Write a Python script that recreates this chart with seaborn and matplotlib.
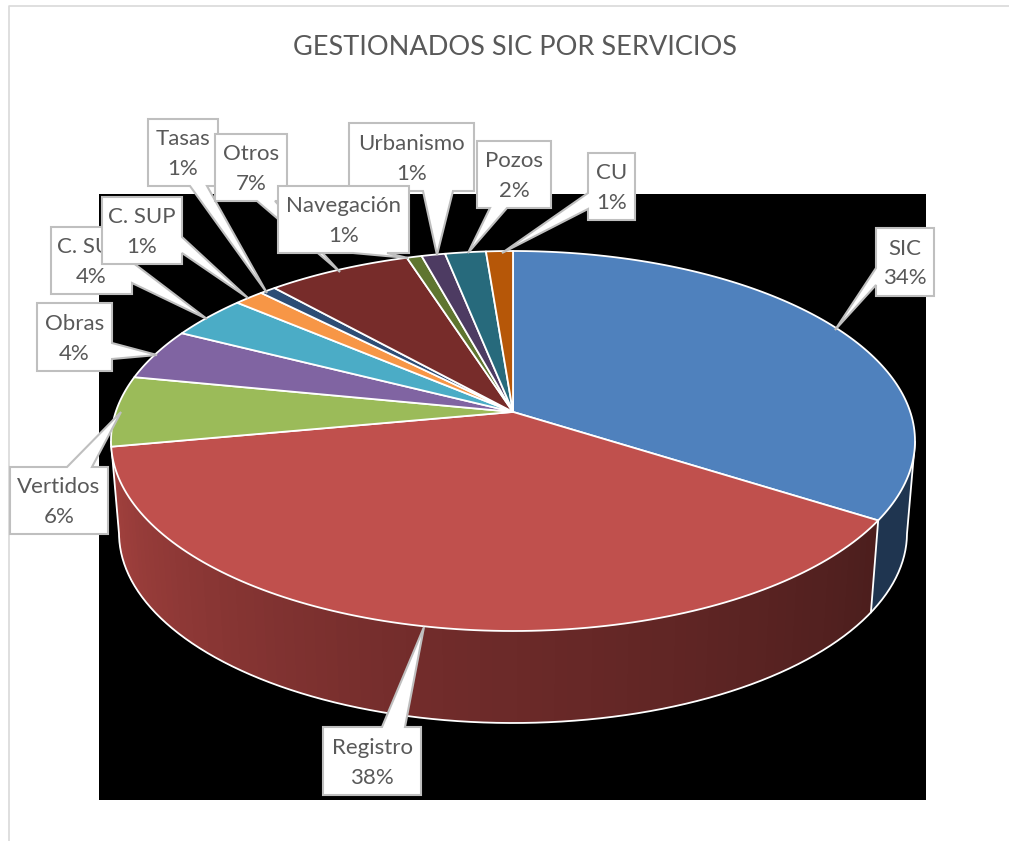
import numpy as np
import matplotlib
matplotlib.use('Agg')
import matplotlib.pyplot as plt
import seaborn as sns

# Data
servicios = ['SIC', 'Registro', 'Vertidos', 'Obras', 'C. SUB', 'C. SUP', 'Tasas',
             'Otros', 'Navegación', 'Urbanismo', 'Pozos', 'CU']
valores = [34.0, 38.05, 6.0, 4.4, 3.7, 1.4, 0.75, 6.7, 0.7, 1.1, 1.9, 1.25]
colores = ['#4f81bd', '#c0504d', '#9bbb59', '#8064a2', '#4bacc6', '#f79646',
           '#2c4d75', '#772c2a', '#5f7530', '#4d3b62', '#276a7c', '#b65708']
titulo = 'GESTIONADOS SIC POR SERVICIOS'

sns.set_theme(style='white')
plt.rcParams['font.family'] = ['Lato', 'DejaVu Sans']

fig = plt.figure(figsize=(10.09, 8.41), dpi=100)
ax = fig.add_axes([0, 0, 1, 1])
ax.set_xlim(0, 1009)
ax.set_ylim(841, 0)
ax.axis('off')

# chart frame and black plot area
ax.plot([9, 9, 1009], [841, 6, 6], color='#d9d9d9', lw=1.2, zorder=0)
ax.fill([99, 926, 926, 99], [194, 194, 800, 800], color='black', lw=0, zorder=1)

# perspective: the apex of the pie sits above the centre of the ellipse
persp = 0.153


def rim(theta, cy, rx, ry, cx=513):
    t = np.radians(theta)
    x, y = np.sin(t), np.cos(t)
    den = 1 + persp * y
    u = x * np.sqrt(1 - persp ** 2) / den
    v = (y + persp) / den
    return cx + rx * u, cy - ry * v


def top(theta):
    return rim(theta, 441, 402, 190)


def bottom(theta):
    return rim(theta, 533, 394, 190)


def wall(t0, t1, color, z=2):
    ts = np.linspace(t0, t1, 100)
    xa, ya = top(ts)
    xb, yb = bottom(ts[::-1])
    ax.fill(np.r_[xa, xb], np.r_[ya, yb], facecolor=color, edgecolor='none', zorder=z)


edges = np.r_[0, np.cumsum(valores)] / sum(valores) * 360

# side walls, only the front of the pie is visible
t_right, t_left = 99, 261
wall(t_right, edges[1], '#1f3550')
n = 90
tonos = sns.blend_palette(['#4c1e1d', '#722c2b', '#a5423f'], n)
paso = np.linspace(edges[1], t_left, n + 1)
# each band runs to the end of the wall so no seams show between them
for i in range(n):
    wall(paso[i], t_left, tonos[i])

ts = np.linspace(t_right, t_left, 200)
xb, yb = bottom(ts)
xt0, yt0 = top(t_right)
xt1, yt1 = top(t_left)
ax.plot(np.r_[xt0, xb, xt1], np.r_[yt0, yb, yt1], color='white', lw=1.3, zorder=3)
xa, ya = top(edges[1])
xc, yc = bottom(edges[1])
ax.plot([xa, xc], [ya, yc], color='white', lw=1.3, zorder=3)

# top of the pie
apex_x = 513
apex_y = 441 - 190 * persp
for i, nombre in enumerate(servicios):
    ts = np.linspace(edges[i], edges[i + 1], 120)
    x, y = top(ts)
    ax.fill(np.r_[apex_x, x], np.r_[apex_y, y], facecolor=colores[i],
            edgecolor='white', lw=1.3, joinstyle='round', zorder=4)

# callouts: box (x0, y0, x1, y1), side of the leader, base along the side, tip
callouts = {
    'SIC': ((876, 228, 934, 296), 'left', (268, 285), (835, 330)),
    'Registro': ((323, 727, 421, 795), 'top', (382, 405), (424, 627)),
    'Vertidos': ((10, 467, 108, 534), 'top', (67, 92), (121, 412)),
    'Obras': ((37, 303, 112, 371), 'right', (343, 359), (157, 355)),
    'C. SUB': ((51, 227, 132, 294), 'right', (262, 283), (207, 319)),
    'C. SUP': ((102, 197, 182, 264), 'right', (237, 253), (248, 298)),
    'Tasas': ((148, 119, 218, 186), 'bottom', (190, 207), (267, 293)),
    'Urbanismo': ((349, 123, 474, 191), 'bottom', (423, 453), (437, 255)),
    'Otros': ((215, 134, 287, 201), 'bottom', (257, 275), (340, 272)),
    'Navegación': ((278, 186, 409, 253), 'bottom', (353, 387), (408, 258)),
    'Pozos': ((477, 141, 551, 208), 'bottom', (490, 507), (468, 253)),
    'CU': ((588, 153, 635, 220), 'left', (193, 209), (502, 253)),
}


def outline(box, lado, base, tip):
    x0, y0, x1, y1 = box
    a, b = base
    if lado == 'top':
        return [(x0, y0), (a, y0), tip, (b, y0), (x1, y0), (x1, y1), (x0, y1)]
    if lado == 'right':
        return [(x0, y0), (x1, y0), (x1, a), tip, (x1, b), (x1, y1), (x0, y1)]
    if lado == 'bottom':
        return [(x0, y0), (x1, y0), (x1, y1), (b, y1), tip, (a, y1), (x0, y1)]
    return [(x0, y0), (x1, y0), (x1, y1), (x0, y1), (x0, b), tip, (x0, a)]


z = 10
for nombre, (box, lado, base, tip) in callouts.items():
    pts = np.array(outline(box, lado, base, tip))
    ax.fill(pts[:, 0], pts[:, 1], facecolor='white', edgecolor='#bfbfbf', lw=1.5,
            joinstyle='miter', zorder=z)
    cx = (box[0] + box[2]) / 2
    cy = (box[1] + box[3]) / 2
    pct = round(valores[servicios.index(nombre)])
    ax.text(cx, cy - 13.5, nombre, ha='center', va='center', fontsize=16,
            color='#595959', zorder=z + 1)
    ax.text(cx, cy + 16.5, f'{pct}%', ha='center', va='center', fontsize=16,
            color='#595959', zorder=z + 1)
    z += 2

ax.text(515, 47, titulo, ha='center', va='center', fontsize=19.5, color='#595959')

fig.savefig('out.png', dpi=100)
